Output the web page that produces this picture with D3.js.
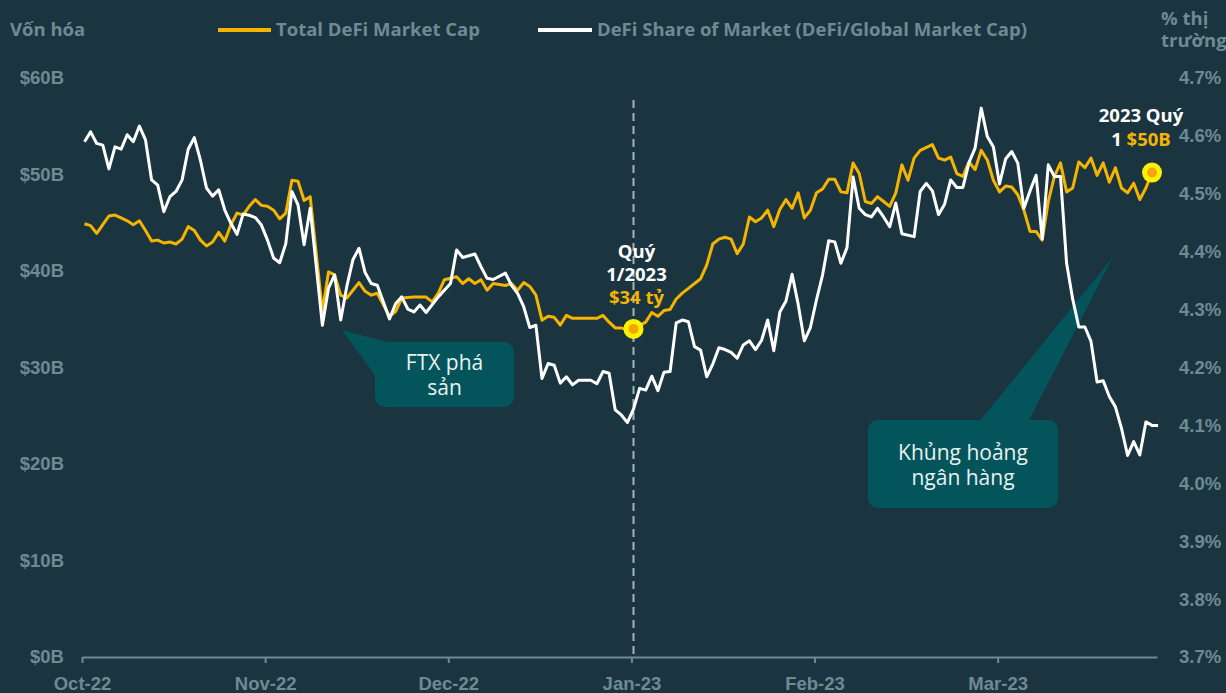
<!DOCTYPE html>
<html>
<head>
<meta charset="utf-8" />
<title>DeFi Market Cap</title>
<script src="https://d3js.org/d3.v7.min.js"></script>
<style>
  html, body { margin: 0; padding: 0; background: #1a3540; }
  svg { display: block; font-family: "Open Sans", sans-serif; }
  .axis text { fill: #6e8b93; font-size: 18.5px; font-weight: 700; }
  .axis path, .axis line { stroke: #6e8b93; stroke-width: 2; }
</style>
</head>
<body>
<script>
// month labels on the x axis
const months = ["Oct-22", "Nov-22", "Dec-22", "Jan-23", "Feb-23", "Mar-23"];
const capTicks = [0, 10, 20, 30, 40, 50, 60];
const shareTicks = [3.7, 3.8, 3.9, 4.0, 4.1, 4.2, 4.3, 4.4, 4.5, 4.6, 4.7];

// Total DeFi Market Cap, [day, $B]
const capData = [
  [0,44.9],[1,44.7],[2,43.9],[3,44.8],[4,45.7],[5,45.8],[6,45.5],[7,45.2],[8,44.8],[9,45.2],
  [10,44.2],[11,43.1],[12,43.2],[13,42.9],[14,43.0],[15,42.8],[16,43.3],[17,44.6],[18,44.2],[19,43.2],
  [20,42.6],[21,43.0],[22,44.0],[23,43.1],[24,44.8],[25,46.0],[26,45.8],[27,46.7],[28,47.4],[29,46.8],
  [30,46.7],[31,46.3],[32,45.4],[33,46.0],[34,49.4],[35,49.3],[36,47.3],[37,47.7],[39,35.8],
  [40,39.9],[41,39.6],[42,37.5],[43,37.2],[44,38.0],[45,38.8],[46,37.9],[47,37.5],[48,37.7],
  [50,35.3],[51,35.8],[52,37.2],[54,37.3],[56,37.3],[57,36.8],[58,37.7],[59,39.1],
  [61,39.4],[62,38.7],[63,39.2],[64,38.7],[65,39.1],[66,38.0],[67,38.7],[69,38.5],
  [70,38.7],[71,38.0],[72,38.8],[73,38.4],[74,37.5],[75,34.9],[76,35.3],[77,35.2],[78,34.4],[79,35.4],
  [80,35.1],[84,35.1],[85,35.4],[86,34.7],[87,34.1],[88,34.1],[89,33.9],
  [90,34.0],[92,34.7],[93,35.7],[94,35.3],[95,35.9],[96,36.0],[97,37.1],[98,37.7],[99,38.2],
  [101,39.2],[102,40.6],[103,42.8],[104,43.3],[105,43.5],[106,43.3],[107,41.8],[108,42.8],[109,45.6],
  [110,45.1],[111,45.5],[112,46.3],[113,44.6],[114,46.4],[115,47.4],[116,46.5],[117,48.1],[118,45.5],[119,46.3],
  [120,48.1],[121,48.5],[122,49.5],[123,49.5],[124,48.2],[125,48.1],[126,51.2],[127,50.1],[128,47.2],[129,47.0],
  [130,47.7],[131,47.2],[132,46.7],[133,48.1],[134,51.0],[135,49.4],[136,51.7],[137,52.5],[139,53.1],
  [140,51.7],[141,51.5],[142,51.8],[143,50.1],[144,49.8],[145,51.3],[146,50.5],[147,52.5],[148,51.5],[149,49.4],
  [150,48.2],[151,48.8],[152,48.7],[153,47.9],[154,46.3],[155,44.1],[156,44.1],[157,43.2],[158,47.2],[159,49.8],
  [160,51.2],[161,48.2],[162,48.6],[163,51.3],[164,50.7],[165,51.7],[166,49.9],[167,51.2],[168,49.2],[169,50.7],
  [170,48.6],[171,48.1],[172,49.1],[173,47.4],[174,48.6],[175,50.2]
];

// DeFi share of global market cap, [day, %]
const shareData = [
  [0,4.590],[1,4.607],[2,4.587],[3,4.584],[4,4.543],[5,4.581],[6,4.577],[7,4.602],[8,4.590],[9,4.617],
  [10,4.593],[11,4.524],[12,4.515],[13,4.469],[14,4.495],[15,4.504],[16,4.524],[17,4.577],[18,4.597],[19,4.558],
  [20,4.510],[21,4.496],[22,4.507],[23,4.472],[24,4.449],[25,4.430],[26,4.465],[27,4.463],[28,4.459],[29,4.446],
  [30,4.420],[31,4.389],[32,4.381],[33,4.414],[34,4.504],[35,4.481],[36,4.412],[37,4.475],[39,4.273],
  [40,4.337],[41,4.360],[42,4.282],[43,4.340],[44,4.386],[45,4.406],[46,4.364],[47,4.345],[48,4.342],
  [50,4.284],[51,4.310],[52,4.322],[53,4.301],[54,4.296],[55,4.308],[56,4.295],[58,4.322],
  [60,4.345],[61,4.403],[62,4.390],[64,4.396],[65,4.374],[66,4.354],[67,4.352],[69,4.363],
  [70,4.342],[71,4.328],[72,4.305],[73,4.269],[74,4.273],[75,4.181],[76,4.207],[77,4.204],[78,4.173],[79,4.184],
  [80,4.170],[81,4.178],[83,4.178],[84,4.172],[85,4.193],[86,4.190],[87,4.127],[88,4.118],[89,4.105],
  [90,4.128],[91,4.164],[92,4.161],[93,4.185],[94,4.160],[95,4.192],[96,4.193],[97,4.277],[98,4.282],[99,4.279],
  [100,4.236],[101,4.230],[102,4.184],[103,4.206],[104,4.234],[105,4.231],[106,4.226],[107,4.216],[108,4.239],[109,4.246],
  [110,4.231],[111,4.247],[112,4.282],[113,4.229],[114,4.296],[115,4.315],[116,4.361],[117,4.309],[118,4.246],[119,4.269],
  [120,4.317],[121,4.360],[122,4.419],[123,4.417],[124,4.380],[125,4.407],[126,4.529],[127,4.475],[128,4.464],[129,4.460],
  [130,4.475],[131,4.460],[132,4.443],[133,4.484],[134,4.431],[136,4.426],[137,4.504],[138,4.518],[139,4.505],
  [140,4.464],[141,4.482],[142,4.524],[143,4.511],[144,4.511],[145,4.554],[146,4.579],[147,4.648],[148,4.599],[149,4.581],
  [150,4.517],[151,4.560],[152,4.573],[153,4.553],[154,4.475],[155,4.505],[156,4.532],[157,4.422],[158,4.550],[159,4.530],
  [160,4.530],[161,4.380],[162,4.318],[163,4.270],[164,4.270],[165,4.245],[166,4.175],[167,4.177],[168,4.150],[169,4.132],
  [170,4.095],[171,4.048],[172,4.072],[173,4.049],[174,4.106],[175,4.100],[176,4.100]
];

const width = 1226;
const height = 693;
const gold = "#f5b400";
const muted = "#6e8b93";
const boxFill = "#03555b";

const svg = d3.select("body")
  .append("svg")
  .attr("width", width)
  .attr("height", height);

svg.append("rect")
  .attr("width", width)
  .attr("height", height)
  .attr("fill", "#1a3540");

const x = d3.scaleLinear().domain([0, 176]).range([84.5, 84.5 + 176 * 6.1]);
const xMonth = d3.scaleLinear().domain([0, 5.87]).range([82, 1157]);
const yCap = d3.scaleLinear().domain([0, 60]).range([657, 78]);
const yShare = d3.scaleLinear().domain([3.7, 4.7]).range([657, 78]);

// axes
svg.append("g")
  .attr("class", "axis")
  .attr("transform", "translate(0,657)")
  .call(d3.axisBottom(xMonth)
    .tickValues(d3.range(months.length))
    .tickFormat(i => months[i])
    .tickSize(6)
    .tickSizeOuter(0)
    .tickPadding(14));

svg.append("g")
  .attr("class", "axis")
  .attr("transform", "translate(64,0)")
  .call(d3.axisLeft(yCap)
    .tickValues(capTicks)
    .tickFormat(d => "$" + d + "B")
    .tickSize(0)
    .tickPadding(0))
  .call(g => g.select(".domain").remove());

svg.append("g")
  .attr("class", "axis")
  .attr("transform", "translate(1179,0)")
  .call(d3.axisRight(yShare)
    .tickValues(shareTicks)
    .tickFormat(d => d3.format(".1f")(d) + "%")
    .tickSize(0)
    .tickPadding(0))
  .call(g => g.select(".domain").remove());

// header: axis titles and legend
const header = svg.append("g")
  .attr("font-size", 18.5)
  .attr("font-weight", 700)
  .attr("fill", muted);
header.append("text").attr("x", 10).attr("y", 36).text("Vốn hóa");
header.append("line").attr("x1", 218).attr("x2", 271).attr("y1", 30).attr("y2", 30)
  .attr("stroke", gold).attr("stroke-width", 4);
header.append("text").attr("x", 276).attr("y", 36).text("Total DeFi Market Cap");
header.append("line").attr("x1", 538).attr("x2", 592).attr("y1", 30).attr("y2", 30)
  .attr("stroke", "#fff").attr("stroke-width", 4);
header.append("text").attr("x", 597).attr("y", 36).text("DeFi Share of Market (DeFi/Global Market Cap)");
header.append("text").attr("x", 1161).attr("y", 25).text("% thị");
header.append("text").attr("x", 1161).attr("y", 47).text("trường");

// callouts
function callout(box, tip, lines, top) {
  const g = svg.append("g");
  g.append("polygon")
    .attr("points", tip.map(p => p.join(",")).join(" "))
    .attr("fill", boxFill);
  g.append("rect")
    .attr("x", box[0]).attr("y", box[1])
    .attr("width", box[2]).attr("height", box[3])
    .attr("rx", 10)
    .attr("fill", boxFill);
  lines.forEach((t, i) => {
    g.append("text")
      .attr("x", box[0] + box[2] / 2)
      .attr("y", box[1] + top + i * 25)
      .attr("text-anchor", "middle")
      .attr("font-size", 21)
      .attr("fill", "#e9f1f1")
      .text(t);
  });
}
callout([375, 342, 139, 65], [[342, 330], [398, 345], [377, 378]], ["FTX phá", "sản"], 28);
callout([868, 420, 190, 88], [[1113, 257], [979, 422], [1028, 422]], ["Khủng hoảng", "ngân hàng"], 40);

// quarter marker
svg.append("line")
  .attr("x1", x(90)).attr("x2", x(90))
  .attr("y1", 100).attr("y2", 657)
  .attr("stroke", "#a3b5ba")
  .attr("stroke-width", 2)
  .attr("stroke-dasharray", "8,5");

// lines
const capLine = d3.line().x(d => x(d[0])).y(d => yCap(d[1]));
const shareLine = d3.line().x(d => x(d[0])).y(d => yShare(d[1]));

svg.append("path")
  .datum(capData)
  .attr("d", capLine)
  .attr("fill", "none")
  .attr("stroke", gold)
  .attr("stroke-width", 3)
  .attr("stroke-linejoin", "round");

svg.append("path")
  .datum(shareData)
  .attr("d", shareLine)
  .attr("fill", "none")
  .attr("stroke", "#fff")
  .attr("stroke-width", 3)
  .attr("stroke-linejoin", "round");

// highlighted points
const marks = [capData.find(d => d[0] === 90), capData[capData.length - 1]];
marks.forEach(d => {
  svg.append("circle").attr("cx", x(d[0])).attr("cy", yCap(d[1])).attr("r", 10).attr("fill", "#fff200");
  svg.append("circle").attr("cx", x(d[0])).attr("cy", yCap(d[1])).attr("r", 5).attr("fill", "#f5a400");
});

// labels for the highlighted points
const lab = svg.append("g")
  .attr("font-size", 18.5)
  .attr("font-weight", 700)
  .attr("text-anchor", "middle");
lab.append("text").attr("x", x(90) + 3).attr("y", 258).attr("fill", "#fff").text("Quý");
lab.append("text").attr("x", x(90) + 3).attr("y", 281).attr("fill", "#fff").text("1/2023");
lab.append("text").attr("x", x(90) + 3).attr("y", 304).attr("fill", gold).text("$34 tỷ");
lab.append("text").attr("x", 1141).attr("y", 122).attr("fill", "#fff").text("2023 Quý");
const t2 = lab.append("text").attr("x", 1141).attr("y", 146);
t2.append("tspan").attr("fill", "#fff").text("1 ");
t2.append("tspan").attr("fill", gold).text("$50B");
</script>
</body>
</html>
